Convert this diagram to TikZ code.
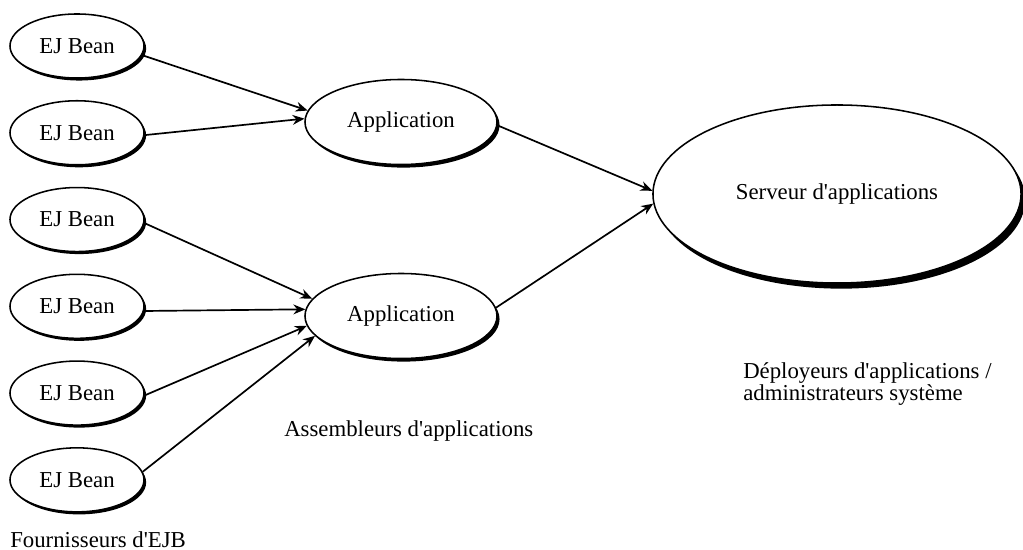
\documentclass[tikz,border=0pt]{standalone}
\usepackage{fontspec}
\setmainfont{Liberation Serif}
\usetikzlibrary{arrows.meta,positioning,shapes.geometric,shadows}

\begin{document}
\begin{tikzpicture}[
  x=0.025cm, y=-0.025cm,
  node distance=5.3mm and 5mm,
  oval/.style={draw, ellipse, line width=1.1pt, fill=white, inner sep=0pt, font=\fontsize{16.2pt}{15.5pt}\selectfont},
  bean/.style={oval, minimum width=3.35cm, minimum height=1.6cm, drop shadow={shadow xshift=1.5pt, shadow yshift=-1.8pt, fill=black, opacity=1}},
  appl/.style={oval, minimum width=4.8cm, minimum height=2.125cm, drop shadow={shadow xshift=1.8pt, shadow yshift=-2.2pt, fill=black, opacity=1}},
  srv/.style={oval, minimum width=9.2cm, minimum height=4.45cm, drop shadow={shadow xshift=3pt, shadow yshift=-4pt, fill=black, opacity=1}},
  lbl/.style={inner sep=0pt, align=left, font=\fontsize{16.2pt}{15.5pt}\selectfont},
  arr/.style={-{Stealth[length=8.5pt, width=7pt]}, line width=1.2pt}
]
\useasboundingbox (0,0) rectangle (1023,550);

\node[bean] (b1) at (77,46) {EJ Bean};
\node[bean, below=of b1] (b2) {EJ Bean};
\node[bean, below=of b2] (b3) {EJ Bean};
\node[bean, below=of b3] (b4) {EJ Bean};
\node[bean, below=of b4] (b5) {EJ Bean};
\node[bean, below=of b5] (b6) {EJ Bean};

\node[appl] (a1) at (401,122) {Application};
\node[appl] (a2) at (401,316) {Application};

\node[srv] (srv) at (837,194) {Serveur d\textquotesingle applications};

\node[lbl, anchor=base west] (fourn) at (10,547) {Fournisseurs d\textquotesingle EJB};
\node[lbl, anchor=base west] (assem) at (284,436) {Assembleurs d\textquotesingle applications};
\node[lbl, anchor=west] (deploy) at (743,384) {Déployeurs d\textquotesingle applications /\\administrateurs système};

\draw[arr] (b1.352) -- (a1.173);
\draw[arr] (b2.358) -- (a1.178);
\draw[arr] (b3.357) -- (a2.169);
\draw[arr] (b4.356) -- (a2.176);
\draw[arr] (b5.358) -- (a2.186);
\draw[arr] (b6.7) -- (a2.193);
\draw[arr] (a1.358) -- (srv.179);
\draw[arr] (a2.5) -- (srv.183);
\end{tikzpicture}
\end{document}
